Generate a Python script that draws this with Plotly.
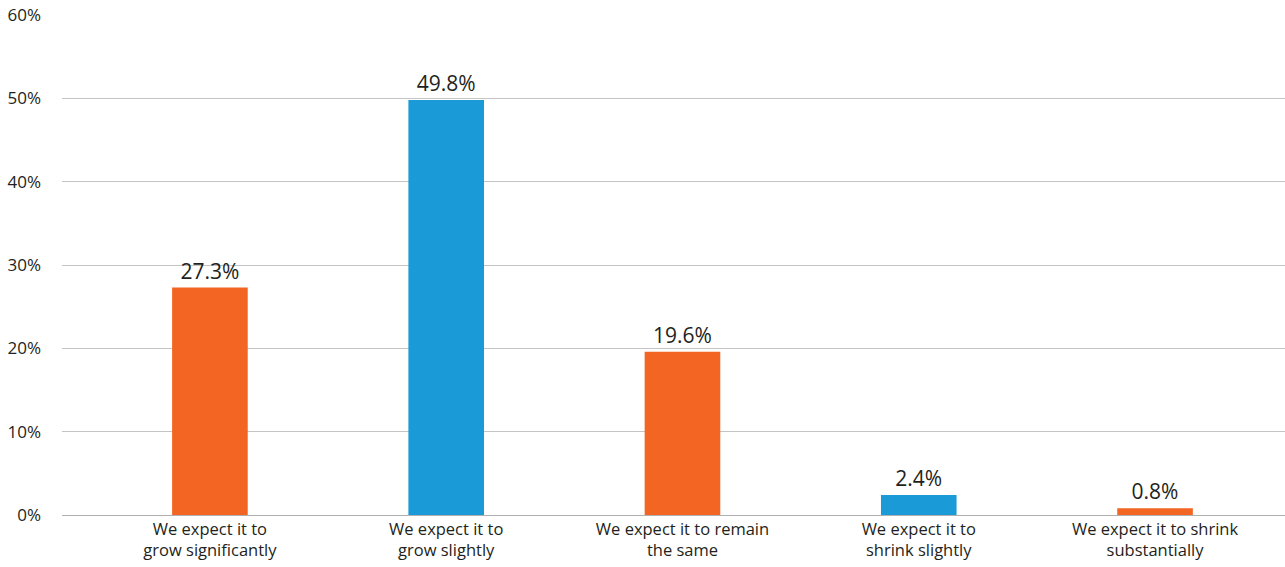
import plotly.graph_objects as go

categories = [
    "We expect it to<br>grow significantly",
    "We expect it to<br>grow slightly",
    "We expect it to remain<br>the same",
    "We expect it to<br>shrink slightly",
    "We expect it to shrink<br>substantially",
]
values = [27.3, 49.8, 19.6, 2.4, 0.8]
labels = ["27.3%", "49.8%", "19.6%", "2.4%", "0.8%"]
colors = ["#F26522", "#1A9BD7", "#F26522", "#1A9BD7", "#F26522"]
y_ticks = [0, 10, 20, 30, 40, 50, 60]
y_tick_text = ["0%", "10%", "20%", "30%", "40%", "50%", "60%"]

fig = go.Figure(
    go.Bar(
        x=list(range(len(categories))),
        y=values,
        text=labels,
        textposition="outside",
        cliponaxis=False,
        marker=dict(color=colors, line=dict(width=0)),
        textfont=dict(size=21, color="#231F20"),
        width=0.32,
    )
)

fig.update_layout(
    width=1285,
    height=567,
    margin=dict(l=62, r=0, t=15, b=52),
    paper_bgcolor="white",
    plot_bgcolor="white",
    font=dict(family="Open Sans, Noto Sans, sans-serif", size=16, color="#231F20"),
    showlegend=False,
    uniformtext=dict(mode=False),
)

fig.update_xaxes(
    tickmode="array",
    tickvals=list(range(len(categories))),
    ticktext=categories,
    range=[-0.626, 4.55],
    showgrid=False,
    zeroline=False,
    showline=False,
    ticks="",
    ticklabelstandoff=2,
    tickfont=dict(size=16.5, color="#231F20"),
)

fig.update_yaxes(
    range=[0, 60],
    tickmode="array",
    tickvals=y_ticks,
    ticktext=y_tick_text,
    showgrid=True,
    gridcolor="#C4C4C4",
    gridwidth=1,
    zeroline=True,
    zerolinecolor="#B0B0B0",
    zerolinewidth=1,
    showline=False,
    ticks="",
    ticklabelstandoff=20,
    tickfont=dict(size=17, color="#231F20"),
)

fig.write_html("out.html")
